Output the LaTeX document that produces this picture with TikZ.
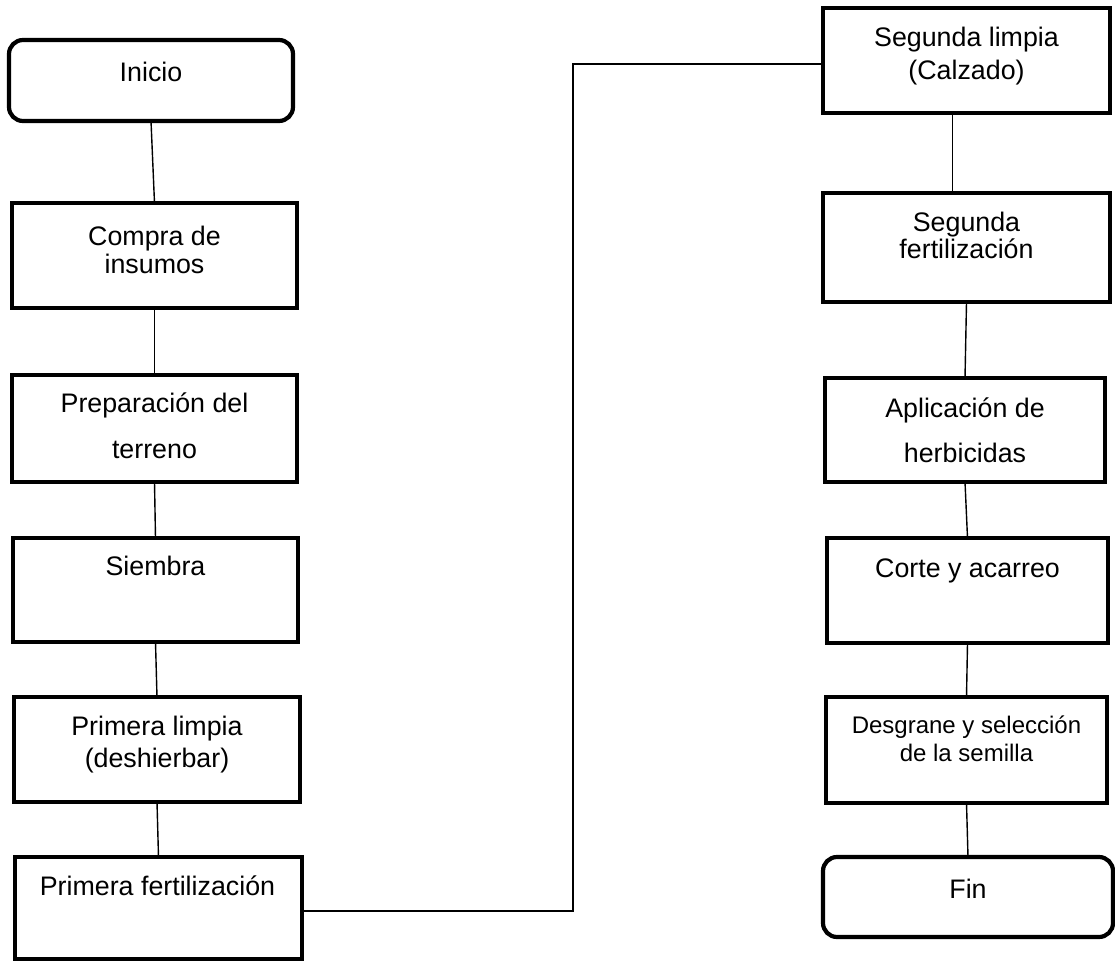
\documentclass[tikz,border=0pt]{standalone}
\usepackage{fontspec}
\setmainfont{Liberation Sans}
\begin{document}
\begin{tikzpicture}[x=1pt,y=-1pt]
\tikzset{
  proc/.style={draw, line width=4.2pt, inner sep=0pt, outer sep=0pt},
  term/.style={proc, rounded corners=14pt},
  lbl/.style={anchor=base, inner sep=0pt, font=\fontsize{26.8}{28}\selectfont},
  lbls/.style={anchor=base, inner sep=0pt, font=\fontsize{24}{26}\selectfont},
  link/.style={line width=1.4pt},
}
\useasboundingbox (0,0) rectangle (1115,960);
% left column
\node[term, minimum width=284pt, minimum height=81pt] (ini) at (151,80.5) {};
\node[proc, minimum width=285pt, minimum height=105pt] (cmp) at (154.5,255.5) {};
\node[proc, minimum width=285pt, minimum height=107pt] (prep) at (154.5,428.5) {};
\node[proc, minimum width=285pt, minimum height=104pt] (siem) at (155.5,590) {};
\node[proc, minimum width=286pt, minimum height=105pt] (pl) at (157,749.5) {};
\node[proc, minimum width=287pt, minimum height=102pt] (pf) at (158.5,908) {};
% right column
\node[proc, minimum width=287pt, minimum height=105pt] (sl) at (966.5,60.5) {};
\node[proc, minimum width=287pt, minimum height=109pt] (sf) at (966.5,247.5) {};
\node[proc, minimum width=280pt, minimum height=104pt] (apl) at (965,430) {};
\node[proc, minimum width=281pt, minimum height=105pt] (cor) at (967.5,590.5) {};
\node[proc, minimum width=281pt, minimum height=106pt] (des) at (966.5,750) {};
\node[term, minimum width=290pt, minimum height=80pt] (fin) at (968,897) {};
% labels
\node[lbl] (t1) at (151,82) {Inicio};
\node[lbl] (t2a) at (154.5,245) {Compra de};
\node[lbl] (t2b) at (154.5,273) {insumos};
\node[lbl] (t3a) at (154.5,412) {Preparación del};
\node[lbl] (t3b) at (154.5,458) {terreno};
\node[lbl] (t4) at (155.5,575) {Siembra};
\node[lbl] (t5a) at (157,735) {Primera limpia};
\node[lbl] (t5b) at (157,767) {(deshierbar)};
\node[lbl] (t6) at (157.5,895) {Primera fertilización};
\node[lbl] (t7a) at (966.5,47) {Segunda limpia};
\node[lbl] (t7b) at (966.5,80) {(Calzado)};
\node[lbl] (t8a) at (966.5,231) {Segunda};
\node[lbl] (t8b) at (966.5,258) {fertilización};
\node[lbl] (t9a) at (965,417) {Aplicación de};
\node[lbl] (t9b) at (965,462) {herbicidas};
\node[lbl] (t10) at (967.5,577) {Corte y acarreo};
\node[lbls] (t11a) at (966.5,733) {Desgrane y selección};
\node[lbls] (t11b) at (966.5,761) {de la semilla};
\node[lbl] (t12) at (968,898) {Fin};
% connectors
\draw[link] (ini.south) -- (cmp.north);
\draw[link] (cmp.south) -- (prep.north);
\draw[link] (prep.south) -- (siem.north);
\draw[link] (siem.south) -- (pl.north);
\draw[link] (pl.south) -- (pf.north);
\coordinate (j1) at (573,911);
\coordinate (j2) at (573,64);
\draw[link] (pf.east |- j1) -- (j1) -- (j2) -- (j2 -| sl.west);
\draw[link] ([xshift=-14pt]sl.south) -- ([xshift=-14pt]sf.north);
\draw[link] (sf.south) -- (apl.north);
\draw[link] (apl.south) -- (cor.north);
\draw[link] (cor.south) -- (des.north);
\draw[link] (des.south) -- (fin.north);
\end{tikzpicture}
\end{document}
